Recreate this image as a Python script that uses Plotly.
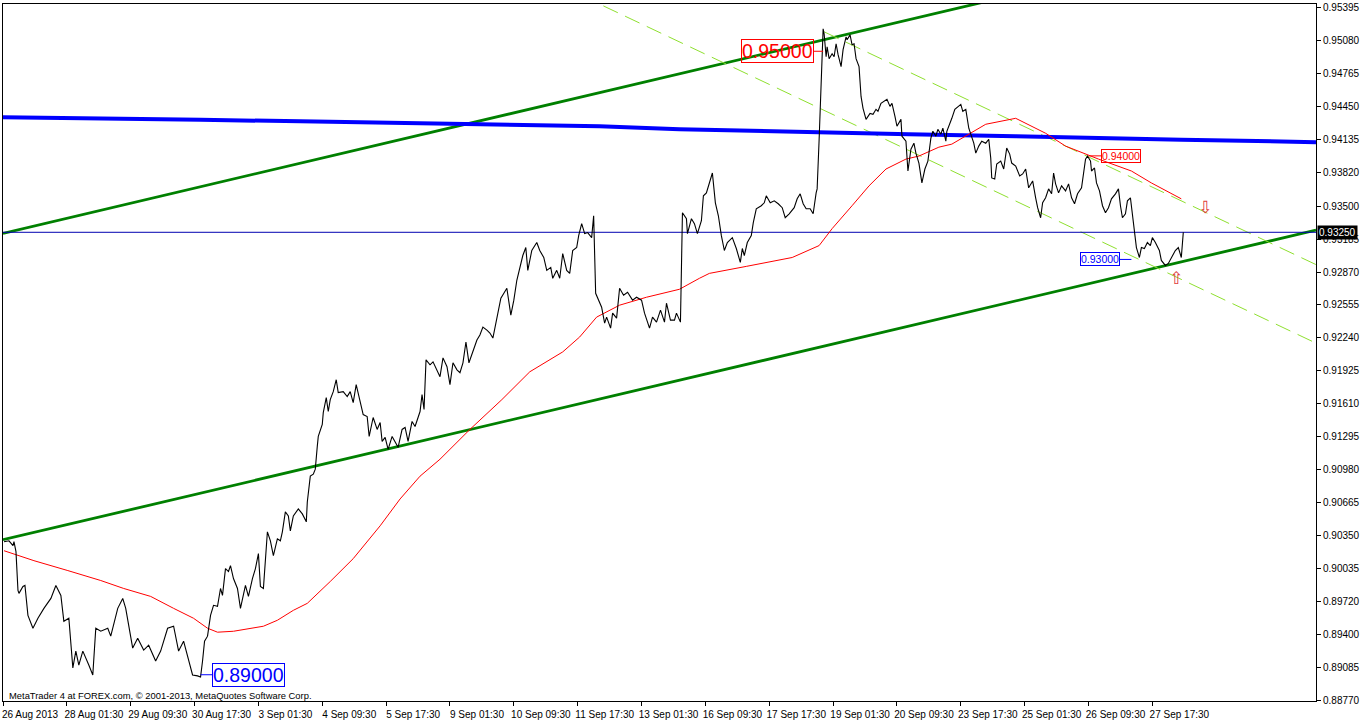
import plotly.graph_objects as go

# ---------------- data ----------------
x_tick_bars = [0, 64, 128, 192, 256, 320, 384, 448, 512, 576, 640, 704, 768, 832, 896, 960, 1024, 1088, 1152]
x_tick_labels = ["26 Aug 2013", "28 Aug 01:30", "29 Aug 09:30", "30 Aug 17:30", "3 Sep 01:30",
                 "4 Sep 09:30", "5 Sep 17:30", "9 Sep 01:30", "10 Sep 09:30", "11 Sep 17:30",
                 "13 Sep 01:30", "16 Sep 09:30", "17 Sep 17:30", "19 Sep 01:30", "20 Sep 09:30",
                 "23 Sep 17:30", "25 Sep 01:30", "26 Sep 09:30", "27 Sep 17:30"]

y_tick_values = [0.95395, 0.95080, 0.94765, 0.94450, 0.94135, 0.93820, 0.93500, 0.93185, 0.92870,
                 0.92555, 0.92240, 0.91925, 0.91610, 0.91295, 0.90980, 0.90665, 0.90350, 0.90035,
                 0.89720, 0.89400, 0.89085, 0.88770]
y_tick_labels = ["%.5f" % v for v in y_tick_values]

# M30 bars (bar index) and close prices
bar_index = [
    1, 6, 10, 11, 13, 15, 16, 20, 22, 25,
    30, 35, 41, 48, 53, 58, 61, 66, 70, 73,
    76, 80, 86, 90, 93, 98, 105, 108, 115, 120,
    123, 126, 130, 135, 141, 146, 153, 158, 165, 171,
    176, 181, 186, 190, 195, 198, 200, 202, 205, 208,
    211, 215, 218, 220, 223, 226, 228, 231, 235, 238,
    243, 246, 250, 253, 256, 258, 261, 265, 268, 271,
    275, 278, 280, 283, 286, 288, 291, 296, 300, 304,
    305, 308, 311, 313, 315, 316, 320, 321, 324, 326,
    328, 331, 334, 336, 341, 345, 348, 351, 354, 358,
    361, 365, 367, 371, 375, 378, 380, 383, 386, 390,
    393, 396, 400, 403, 406, 410, 413, 415, 418, 420,
    422, 424, 428, 431, 435, 438, 441, 445, 448, 451,
    455, 458, 461, 464, 467, 471, 475, 478, 481, 485,
    488, 491, 495, 499, 502, 505, 509, 512, 515, 518,
    521, 524, 526, 530, 535, 538, 542, 545, 549, 551,
    555, 558, 561, 565, 568, 571, 575, 577, 580, 583,
    586, 590, 592, 594, 596, 600, 603, 605, 609, 611,
    615, 618, 622, 626, 631, 635, 640, 643, 648, 651,
    655, 659, 663, 665, 669, 673, 675, 679, 681, 685,
    686, 690, 693, 696, 700, 702, 705, 709, 711, 714,
    717, 720, 723, 726, 731, 735, 739, 741, 743, 746,
    750, 752, 755, 760, 763, 765, 769, 773, 777, 781,
    784, 788, 793, 796, 799, 802, 805, 809, 812, 815,
    816, 818, 820, 821, 822, 823, 825, 826, 828, 831,
    833, 835, 837, 840, 842, 845, 846, 849, 851, 853,
    855, 858, 860, 862, 865, 869, 872, 875, 877, 880,
    883, 886, 889, 891, 894, 896, 900, 901, 905, 907,
    910, 913, 915, 918, 921, 924, 927, 930, 932, 935,
    937, 940, 942, 945, 946, 949, 951, 954, 957, 960,
    962, 965, 968, 971, 973, 975, 978, 981, 985, 988,
    990, 991, 994, 996, 1000, 1003, 1006, 1009, 1011, 1015,
    1019, 1022, 1025, 1028, 1032, 1035, 1037, 1040, 1042, 1045,
    1048, 1051, 1053, 1055, 1058, 1061, 1065, 1068, 1071, 1074,
    1077, 1081, 1083, 1085, 1087, 1090, 1091, 1094, 1096, 1099,
    1102, 1105, 1108, 1111, 1115, 1118, 1120, 1122, 1125, 1127,
    1130, 1132, 1134, 1136, 1139, 1141, 1144, 1147, 1150, 1152,
    1155, 1159, 1161, 1165, 1168, 1171, 1173, 1175, 1178, 1181, 1183,
]
close_price = [
    0.90291, 0.90300, 0.90253, 0.90291, 0.90196, 0.89825, 0.89797, 0.89863, 0.89873, 0.89587,
    0.89464, 0.89559, 0.89654, 0.89749, 0.89873, 0.89778, 0.89530, 0.89559, 0.89084, 0.89245,
    0.89112, 0.89245, 0.89112, 0.89017, 0.89464, 0.89435, 0.89464, 0.89388, 0.89654, 0.89749,
    0.89654, 0.89492, 0.89274, 0.89369, 0.89255, 0.89302, 0.89150, 0.89245, 0.89464, 0.89483,
    0.89245, 0.89340, 0.89150, 0.89017, 0.89008, 0.88998, 0.89150, 0.89340, 0.89388, 0.89587,
    0.89683, 0.89673, 0.89844, 0.89778, 0.90034, 0.90006, 0.90063, 0.89939, 0.89844, 0.89654,
    0.89873, 0.89768, 0.89939, 0.90034, 0.90177, 0.89863, 0.89844, 0.90386, 0.90300, 0.90158,
    0.90319, 0.90300, 0.90386, 0.90576, 0.90538, 0.90395, 0.90538, 0.90605, 0.90557, 0.90481,
    0.90671, 0.90918, 0.90937, 0.90985, 0.91203, 0.91298, 0.91412, 0.91526, 0.91669, 0.91536,
    0.91650, 0.91726, 0.91840, 0.91717, 0.91726, 0.91679, 0.91726, 0.91622, 0.91793, 0.91631,
    0.91507, 0.91488, 0.91298, 0.91479, 0.91365, 0.91431, 0.91251, 0.91289, 0.91175, 0.91298,
    0.91241, 0.91194, 0.91365, 0.91384, 0.91251, 0.91441, 0.91393, 0.91460, 0.91536, 0.91698,
    0.91555, 0.92030, 0.91983, 0.92011, 0.91926, 0.91869, 0.92049, 0.91964, 0.91793, 0.92002,
    0.91935, 0.91907, 0.92002, 0.92201, 0.92002, 0.92106, 0.92220, 0.92268, 0.92344, 0.92315,
    0.92287, 0.92239, 0.92429, 0.92620, 0.92667, 0.92715, 0.92458, 0.92601, 0.92791, 0.92905,
    0.93028, 0.93104, 0.92886, 0.93076, 0.93152, 0.93076, 0.93009, 0.92886, 0.92914, 0.92810,
    0.92886, 0.92810, 0.93047, 0.92886, 0.92857, 0.93076, 0.93104, 0.93218, 0.93332, 0.93237,
    0.93247, 0.93199, 0.93408, 0.92667, 0.92620, 0.92534, 0.92382, 0.92439, 0.92334, 0.92477,
    0.92429, 0.92715, 0.92648, 0.92677, 0.92601, 0.92629, 0.92601, 0.92477, 0.92334, 0.92439,
    0.92391, 0.92506, 0.92391, 0.92572, 0.92410, 0.92410, 0.92477, 0.92391, 0.93437, 0.93380,
    0.93237, 0.93380, 0.93332, 0.93237, 0.93361, 0.93599, 0.93627, 0.93770, 0.93817, 0.93532,
    0.93408, 0.93218, 0.93076, 0.93152, 0.93199, 0.93095, 0.92962, 0.93095, 0.93028, 0.93152,
    0.93218, 0.93342, 0.93475, 0.93504, 0.93532, 0.93599, 0.93532, 0.93551, 0.93523, 0.93485,
    0.93389, 0.93427, 0.93485, 0.93570, 0.93618, 0.93523, 0.93475, 0.93475, 0.93427, 0.93627,
    0.93665, 0.94140, 0.94758, 0.94958, 0.95195, 0.95148, 0.94929, 0.95024, 0.94910, 0.94958,
    0.94929, 0.95053, 0.94948, 0.94834, 0.94996, 0.95119, 0.95091, 0.95138, 0.95043, 0.95053,
    0.94910, 0.94834, 0.94549, 0.94435, 0.94330, 0.94387, 0.94378, 0.94426, 0.94407, 0.94483,
    0.94502, 0.94521, 0.94454, 0.94483, 0.94359, 0.94264, 0.94330, 0.94169, 0.94121, 0.93836,
    0.94045, 0.94102, 0.94007, 0.93912, 0.93722, 0.93855, 0.93931, 0.94150, 0.94216, 0.94169,
    0.94235, 0.94188, 0.94245, 0.94121, 0.94216, 0.94283, 0.94340, 0.94426, 0.94454, 0.94473,
    0.94407, 0.94426, 0.94245, 0.94169, 0.94102, 0.94007, 0.94074, 0.94121, 0.94102, 0.94140,
    0.93960, 0.93770, 0.93760, 0.93903, 0.93931, 0.93855, 0.94055, 0.93998, 0.93912, 0.93884,
    0.93789, 0.93808, 0.93855, 0.93675, 0.93741, 0.93580, 0.93485, 0.93389, 0.93532, 0.93580,
    0.93665, 0.93618, 0.93817, 0.93713, 0.93627, 0.93694, 0.93646, 0.93713, 0.93580, 0.93523,
    0.93618, 0.93675, 0.93808, 0.93950, 0.93979, 0.93931, 0.93836, 0.93865, 0.93722, 0.93646,
    0.93504, 0.93437, 0.93485, 0.93570, 0.93618, 0.93665, 0.93504, 0.93389, 0.93427, 0.93551,
    0.93580, 0.93427, 0.93266, 0.93104, 0.93009, 0.93104, 0.93095, 0.93152, 0.93123, 0.93199,
    0.93152, 0.93076, 0.92981, 0.92933, 0.92952, 0.93009, 0.93047, 0.93076, 0.93104, 0.93009, 0.93250,
]

# red moving average
ma_red_bars = [1, 31, 65, 98, 121, 148, 171, 191, 205, 215,
               231, 261, 275, 291, 305, 318, 328, 351, 378, 398,
               418, 438, 468, 500, 528, 561, 578, 595, 618, 645,
               678, 698, 708, 745, 791, 818, 831, 851, 868, 885,
               905, 918, 938, 951, 985, 1015, 1045, 1065, 1098, 1131,
               1151, 1181]
ma_red_values = [0.90205, 0.90110, 0.90015, 0.89920, 0.89844, 0.89768, 0.89654, 0.89559, 0.89464, 0.89426,
                 0.89435, 0.89483, 0.89540, 0.89635, 0.89702, 0.89816, 0.89911, 0.90129, 0.90443, 0.90700,
                 0.90918, 0.91080, 0.91365, 0.91650, 0.91916, 0.92106, 0.92249, 0.92439, 0.92553, 0.92629,
                 0.92705, 0.92810, 0.92857, 0.92924, 0.93009, 0.93123, 0.93285, 0.93504, 0.93694, 0.93855,
                 0.93950, 0.93979, 0.94064, 0.94093, 0.94283, 0.94340, 0.94197, 0.94074, 0.93950, 0.93836,
                 0.93722, 0.93570]

# thick blue moving average
ma_blue_bars = [0, 98, 198, 298, 398, 468, 598, 678, 741, 798, 851, 908, 1015, 1071, 1181, 1316]
ma_blue_values = [0.94349, 0.94340, 0.94326, 0.94311, 0.94297, 0.94288, 0.94264, 0.94235,
                  0.94221, 0.94207, 0.94197, 0.94188, 0.94169, 0.94155, 0.94136, 0.94112]

# trend lines (anchor bars / prices)
green_upper_bars = [0, 1316]
green_upper_prices = [0.93240, 0.96201]
green_lower_bars = [0, 1316]
green_lower_prices = [0.90310, 0.93271]
dash_upper_bars = [823, 1316]
dash_upper_prices = [0.95167, 0.92941]
dash_lower_bars = [580, 1316]
dash_lower_prices = [0.95513, 0.92190]
bid_price = 0.93250

# price labels
label_texts = ["0.95000", "0.89000", "0.94000", "0.93000"]
label_bars = [822, 198, 1088, 1131]
label_prices = [0.95000, 0.89000, 0.94000, 0.93000]
label_colors = ["#FF0000", "#0000FF", "#FF0000", "#0000FF"]
label_sizes = [19.5, 19.5, 10.5, 10.5]
label_offsets = [-46, 48, 32, -31]
label_yshift = [-2, 2, -2, -1]

arrow_bars = [1205, 1176]
arrow_prices = [0.93475, 0.92800]
arrow_glyphs = ["\u21e9", "\u21e7"]

# ---------------- figure ----------------
fig = go.Figure()

fig.add_trace(go.Scatter(x=green_upper_bars, y=green_upper_prices, mode="lines",
                         line=dict(color="#008000", width=2.8), hoverinfo="skip"))
fig.add_trace(go.Scatter(x=green_lower_bars, y=green_lower_prices, mode="lines",
                         line=dict(color="#008000", width=2.8), hoverinfo="skip"))
fig.add_trace(go.Scatter(x=dash_upper_bars, y=dash_upper_prices, mode="lines",
                         line=dict(color="#8FE02F", width=1, dash="16px,8px"), hoverinfo="skip"))
fig.add_trace(go.Scatter(x=dash_lower_bars, y=dash_lower_prices, mode="lines",
                         line=dict(color="#8FE02F", width=1, dash="16px,8px"), hoverinfo="skip"))
fig.add_trace(go.Scatter(x=ma_blue_bars, y=ma_blue_values, mode="lines",
                         line=dict(color="#0000FF", width=4), hoverinfo="skip"))
fig.add_trace(go.Scatter(x=[0, 1316], y=[bid_price, bid_price], mode="lines",
                         line=dict(color="#0000B0", width=1), hoverinfo="skip"))
fig.add_trace(go.Scatter(x=ma_red_bars, y=ma_red_values, mode="lines",
                         line=dict(color="#FF0000", width=1), hoverinfo="skip"))
fig.add_trace(go.Scatter(x=bar_index, y=close_price, mode="lines",
                         line=dict(color="#000000", width=1.1)))
fig.add_trace(go.Scatter(x=arrow_bars, y=arrow_prices, mode="text", text=arrow_glyphs,
                         textfont=dict(family="DejaVu Sans", size=17, color="#E03C3C"),
                         textposition="middle center", hoverinfo="skip"))

annotations = []
for t, b, p, c, s, off, ys in zip(label_texts, label_bars, label_prices, label_colors,
                                  label_sizes, label_offsets, label_yshift):
    annotations.append(dict(x=b, y=p, xref="x", yref="y", text=t, showarrow=True,
                            arrowhead=0, arrowwidth=1, arrowcolor=c, ax=off, ay=0,
                            axref="pixel", ayref="pixel", standoff=0, yshift=ys,
                            font=dict(family="Liberation Sans, Arial, sans-serif", size=s, color=c),
                            bordercolor=c, borderwidth=1, borderpad=0, bgcolor="rgba(0,0,0,0)"))

annotations.append(dict(x=1, y=bid_price, xref="paper", yref="y", xanchor="left", yanchor="middle",
                        xshift=1, text="0.93250", showarrow=False, bgcolor="#000000",
                        borderpad=1, font=dict(family="Liberation Sans, Arial, sans-serif",
                                               size=10, color="#FFFFFF")))
annotations.append(dict(x=0, y=0, xref="paper", yref="paper", xanchor="left", yanchor="bottom",
                        xshift=4, yshift=-2, showarrow=False,
                        text="MetaTrader 4 at FOREX.com, \u00a9 2001-2013, MetaQuotes Software Corp.",
                        font=dict(family="Liberation Sans, Arial, sans-serif", size=9.4, color="#000000")))

fig.update_layout(
    width=1362, height=722,
    margin=dict(l=2, r=44, t=2, b=19),
    paper_bgcolor="white", plot_bgcolor="white",
    showlegend=False,
    font=dict(family="Liberation Sans, Arial, sans-serif", size=10, color="black"),
    annotations=annotations,
)
fig.update_xaxes(range=[0, 1316], tickvals=x_tick_bars, ticktext=x_tick_labels,
                 ticks="outside", ticklen=4, tickcolor="black", showgrid=False, zeroline=False,
                 showline=True, linecolor="black", linewidth=1, mirror=True,
                 ticklabelshift=27, tickfont=dict(size=10, color="black"))
fig.update_yaxes(range=[0.88768, 0.95433], side="right", tickvals=y_tick_values, ticktext=y_tick_labels,
                 ticks="outside", ticklen=4, tickcolor="black", showgrid=False, zeroline=False,
                 showline=True, linecolor="black", linewidth=1, mirror=True,
                 tickfont=dict(size=10, color="black"))

fig.write_html("out.html", config={"displayModeBar": False},
               post_script="document.body.style.margin='0px';document.body.style.padding='0px';")
